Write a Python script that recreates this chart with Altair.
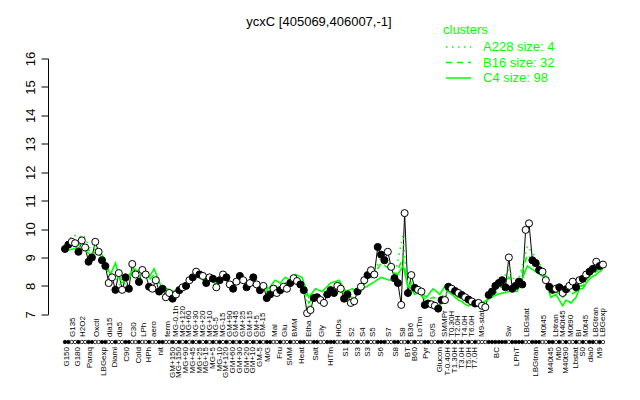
import altair as alt
import pandas as pd

FONT = "Liberation Sans"
GREEN = "#00ff00"

# ---------------- data ----------------
labels = [
    # group 1
    "G150", "G135", "G180", "H2O2", "Paraq", "Oxctl", "LBGexp", "dia15", "Diami", "dia5",
    "C90", "C30", "Cold", "LPh", "HPh", "aero", "nit", "ferm", "GM+150", "MG-0.1h",
    "MG+150", "MG+120",
    # group 2 (dense time series)
    "MG+90", "MG+60", "MG+45", "MG+30", "MG+25", "MG+20", "MG+15", "MG+10", "MG+5", "MG-5",
    "MG-10", "MG-15", "GM+120", "GM+90", "GM+60", "GM+45", "GM+30", "GM+25", "GM+20", "GM+15",
    "GM+10", "GM+5", "GM-5", "GM-15",
    # group 3
    "M/G", "Mal", "Fru", "Glu", "SMM", "BMM", "Heat", "Etha", "Salt", "Gly",
    "HiTm", "HiOs", "S1", "S2", "S3", "S4", "S3", "S5", "S6", "S7", "S8", "S8",
    # group 4
    "BT", "B36", "B60", "LoTm", "Pyr", "G/S", "Glucon", "SMMPr",
    # group 5 (dense time series)
    "T-0.40H", "T0.30H", "T1.30H", "T2.0H", "T3.0H", "T4.0H", "T5.0H", "T6.0H", "T7.0H",
    # group 6
    "M9-stat", "BC", "Sw", "LPhT", "LBGstat", "LBGtran", "M0t45", "M40t45", "Lbtran", "Mt0",
    "M40t45", "M40t90", "M0t90", "Lbstat", "BI", "S0", "M0t45", "dia0", "LBGtran", "M9",
    "LBGexp",
]

replicates = [
    # group 1
    [9.3, 9.45], [9.55, 9.5], [9.2], [9.6, 9.35], [8.85, 9.0], [9.55, 9.2], [8.9, 8.7],
    [8.1, 8.3], [7.86], [8.45, 7.86], [8.3, 7.9], [8.77, 8.4], [8.14], [8.56, 8.4], [7.97],
    [7.9, 8.2], [7.8, 7.9], [7.6, 7.75], [7.55], [7.7], [7.85], [7.95],
    # group 2
    [8.0], [8.2], [8.3], [8.5], [8.4], [8.35], [8.1], [8.3], [8.25], [7.95], [8.2], [8.4],
    [8.3], [8.05], [7.9], [8.15], [8.35], [8.2], [7.95], [8.1], [8.3], [8.05], [7.85], [8.0],
    # group 3
    [7.57, 7.7], [7.9, 7.75], [7.85], [7.97, 7.9], [8.1], [8.27, 8.17], [8.05, 7.85],
    [7.04, 7.15], [7.57, 7.6], [7.5, 7.4], [7.7, 7.85, 7.75], [8.0, 7.9], [7.55, 7.7],
    [7.4, 7.46], [7.8], [7.97, 8.2], [8.38], [8.55, 8.4], [9.37, 9.1, 8.9], [9.2, 8.67],
    [8.27, 8.1], [7.33, 10.56],
    # group 4
    [7.75], [8.38], [7.93], [7.86, 7.8], [7.33, 7.38], [7.35, 7.3], [7.2, 7.5], [7.5],
    # group 5
    [7.97], [7.9], [7.82], [7.75], [7.68], [7.6], [7.52], [7.45], [7.38],
    # group 6
    [7.4, 7.3, 7.25], [7.68, 7.8, 8.0, 8.1, 8.2, 7.95], [9.0], [7.9, 8.0, 8.15, 8.05],
    [9.97, 10.2], [8.9, 8.8, 8.56], [8.5, 8.2], [7.97, 7.86], [7.9], [7.95], [7.75], [7.88],
    [8.0, 8.15], [7.95], [8.2], [8.25], [8.4], [8.5, 8.6], [8.85], [8.7], [8.75],
]

c4 = [
    9.25, 9.3, 9.35, 9.3, 9.1, 9.2, 8.9, 8.4, 8.8, 8.2, 8.3, 8.6, 8.5, 8.6, 8.3, 8.6, 8.0,
    7.9, 7.8, 7.85, 7.9, 8.0,
    8.1, 8.2, 8.3, 8.35, 8.3, 8.2, 8.25, 8.3, 8.15, 8.1, 8.2, 8.3, 8.2, 8.1, 8.0, 8.1, 8.25,
    8.2, 8.0, 8.1, 8.2, 8.1, 8.0, 8.05,
    7.9, 8.2, 8.1, 8.3, 8.2, 8.4, 8.3, 7.6, 7.9, 7.8, 8.1, 8.2, 7.8, 7.9, 7.7, 7.9, 8.0,
    8.1, 8.3, 8.2, 8.3, 8.7,
    8.0, 7.9, 7.7, 7.8, 7.6, 7.9, 7.7, 8.0,
    7.8, 7.7, 7.6, 7.5, 7.45, 7.35, 7.3, 7.35, 7.4,
    7.4, 7.7, 7.8, 7.8, 8.7, 8.5, 8.3, 7.6, 7.7, 7.5, 7.3, 7.5, 7.4, 7.6, 7.9, 7.9, 8.1,
    8.3, 8.4, 8.5, 8.6,
]
b16 = [
    9.4, 9.5, 9.45, 9.5, 9.2, 9.3, 9.0, 8.3, 8.5, 8.1, 8.2, 8.5, 8.3, 8.5, 8.2, 8.4, 7.9,
    7.8, 7.7, 7.8, 7.9, 8.0,
    8.1, 8.25, 8.35, 8.45, 8.35, 8.3, 8.2, 8.3, 8.2, 8.0, 8.2, 8.35, 8.25, 8.05, 7.95, 8.1,
    8.3, 8.2, 7.95, 8.1, 8.25, 8.05, 7.9, 8.0,
    7.8, 8.0, 7.95, 8.1, 8.2, 8.3, 8.1, 7.4, 7.7, 7.6, 7.9, 8.0, 7.6, 7.6, 7.8, 8.0, 8.2,
    8.3, 8.8, 8.6, 8.4, 9.0,
    7.9, 8.1, 7.8, 7.7, 7.5, 7.6, 7.5, 7.8,
    7.9, 7.8, 7.7, 7.6, 7.55, 7.5, 7.45, 7.4, 7.35,
    7.35, 7.8, 8.3, 7.9, 9.1, 8.8, 8.4, 7.8, 7.8, 7.7, 7.6, 7.7, 7.7, 7.8, 8.0, 8.0, 8.2,
    8.4, 8.5, 8.6, 8.7,
]
a228 = [
    9.5, 9.8, 9.7, 9.8, 9.3, 9.4, 9.0, 8.2, 8.3, 8.0, 8.1, 8.7, 8.2, 8.5, 8.0, 8.2, 7.8,
    7.7, 7.6, 7.8, 7.9, 8.1,
    8.0, 8.2, 8.3, 8.5, 8.4, 8.3, 8.1, 8.3, 8.2, 7.9, 8.2, 8.4, 8.3, 8.0, 7.9, 8.1, 8.3,
    8.2, 7.9, 8.1, 8.3, 8.0, 7.8, 7.95,
    7.7, 7.9, 7.9, 8.0, 8.2, 8.2, 8.0, 7.2, 7.6, 7.5, 7.8, 7.9, 7.5, 7.5, 7.8, 8.0, 8.3,
    8.4, 9.0, 8.8, 8.6, 9.8,
    7.8, 8.3, 7.9, 7.8, 7.4, 7.4, 7.3, 7.6,
    7.9, 7.8, 7.7, 7.6, 7.55, 7.5, 7.4, 7.35, 7.25,
    7.3, 7.9, 8.6, 8.0, 9.4, 9.0, 8.5, 7.9, 7.8, 7.8, 7.7, 7.8, 7.8, 7.9, 8.1, 8.1, 8.3,
    8.5, 8.6, 8.7, 8.8,
]

cluster_names = ["A228", "B16", "C4"]
cluster_text = ["A228 size: 4", "B16 size: 32", "C4 size: 98"]
cluster_dash = [[1.5, 4.5], [6, 5], [1, 0]]
title_text = "ycxC [405069,406007,-1]"
y_ticks = [7, 8, 9, 10, 11, 12, 13, 14, 15, 16]

assert len(labels) == len(replicates) == len(c4) == len(b16) == len(a228)

# ---------------- tables ----------------
rows, centers = [], []
k = 0
for i, vals in enumerate(replicates):
    fill = "black" if i % 2 == 0 else "white"
    start = k
    for v in vals:
        rows.append({"idx": k, "v": v, "fill": fill})
        k += 1
    centers.append((start + k - 1) / 2)
samples = pd.DataFrame(rows)
n = k

lab_df = pd.DataFrame({"idx": centers, "label": labels,
                       "row": ["bottom" if i % 2 == 0 else "top" for i in range(len(labels))]})

green_rows = []
for name, series in zip(cluster_names, [a228, b16, c4]):
    for c, v in zip(centers, series):
        green_rows.append({"idx": c, "v": v, "cluster": name})
green = pd.DataFrame(green_rows)

# ---------------- geometry ----------------
W, H = 562, 255.8
TOP = 58.5  # page y of the top of the plot area
span = (n - 1) * W / 538
d0 = -17 * span / W
xscale = alt.Scale(domain=[d0, d0 + span], nice=False, zero=False)
yscale = alt.Scale(domain=[7, 16], nice=False, zero=False)

X = alt.X("idx:Q", scale=xscale, axis=None)
Y = alt.Y("v:Q", scale=yscale, title="",
          axis=alt.Axis(values=y_ticks, grid=False, domainColor="black", domainWidth=1,
                        tickColor="black", tickSize=7, tickWidth=1, labelAngle=270,
                        labelAlign="center", labelBaseline="bottom", labelPadding=4,
                        labelFont=FONT, labelFontSize=13, labelColor="black"))

black_line = alt.Chart(samples).mark_line(color="black", strokeWidth=1).encode(x=X, y=Y)

green_lines = alt.Chart(green).mark_line(color=GREEN, strokeWidth=1.6).encode(
    x=X, y=Y,
    strokeDash=alt.StrokeDash("cluster:N", legend=None,
                              scale=alt.Scale(domain=cluster_names, range=cluster_dash)),
    detail="cluster:N",
)

points = alt.Chart(samples).mark_circle(size=50, stroke="black", strokeWidth=1, opacity=1).encode(
    x=X, y=Y, fill=alt.Fill("fill:N", scale=None))

tick_dots = alt.Chart(samples).mark_circle(size=12, stroke="black", strokeWidth=0.8, opacity=1).encode(
    x=X, y=alt.value(342 - TOP), fill=alt.Fill("fill:N", scale=None))

top_labels = alt.Chart(lab_df).transform_filter(alt.datum.row == "top").mark_text(
    angle=270, align="left", baseline="middle", font=FONT, fontSize=8, color="black"
).encode(x=X, y=alt.value(337 - TOP), text="label:N")

bottom_labels = alt.Chart(lab_df).transform_filter(alt.datum.row == "bottom").mark_text(
    angle=270, align="right", baseline="middle", font=FONT, fontSize=8, color="black"
).encode(x=X, y=alt.value(347 - TOP), text="label:N")

title = alt.Chart(pd.DataFrame({"t": [title_text]})).mark_text(
    font=FONT, fontSize=13, color="black", align="center", baseline="middle"
).encode(x=alt.value(319 - 48), y=alt.value(22 - TOP), text="t:N")

legend_title = alt.Chart(pd.DataFrame({"t": ["clusters"]})).mark_text(
    font=FONT, fontSize=13, color=GREEN, align="left", baseline="middle"
).encode(x=alt.value(443 - 48), y=alt.value(30 - TOP), text="t:N")

legend_layers = []
for j, (name, txt) in enumerate(zip(cluster_names, cluster_text)):
    ly = 47 + 15.5 * j - TOP
    legend_layers.append(
        alt.Chart(pd.DataFrame({"t": [txt]})).mark_rule(
            color=GREEN, strokeWidth=1.6, strokeDash=cluster_dash[j]
        ).encode(x=alt.value(446 - 48), x2=alt.value(471 - 48), y=alt.value(ly))
    )
    legend_layers.append(
        alt.Chart(pd.DataFrame({"t": [txt]})).mark_text(
            font=FONT, fontSize=13, color=GREEN, align="left", baseline="middle"
        ).encode(x=alt.value(483 - 48), y=alt.value(ly), text="t:N")
    )

chart = alt.layer(
    black_line, green_lines, points, tick_dots, top_labels, bottom_labels,
    title, legend_title, *legend_layers
).properties(
    width=W, height=H,
    autosize=alt.AutoSizeParams(type="none"),
    padding={"left": 40, "top": TOP - 8, "right": 22, "bottom": 400 - 16 - (TOP - 8) - H},
).configure_view(strokeWidth=0)

chart.save("out.html", embed_options={"renderer": "svg", "actions": False})
